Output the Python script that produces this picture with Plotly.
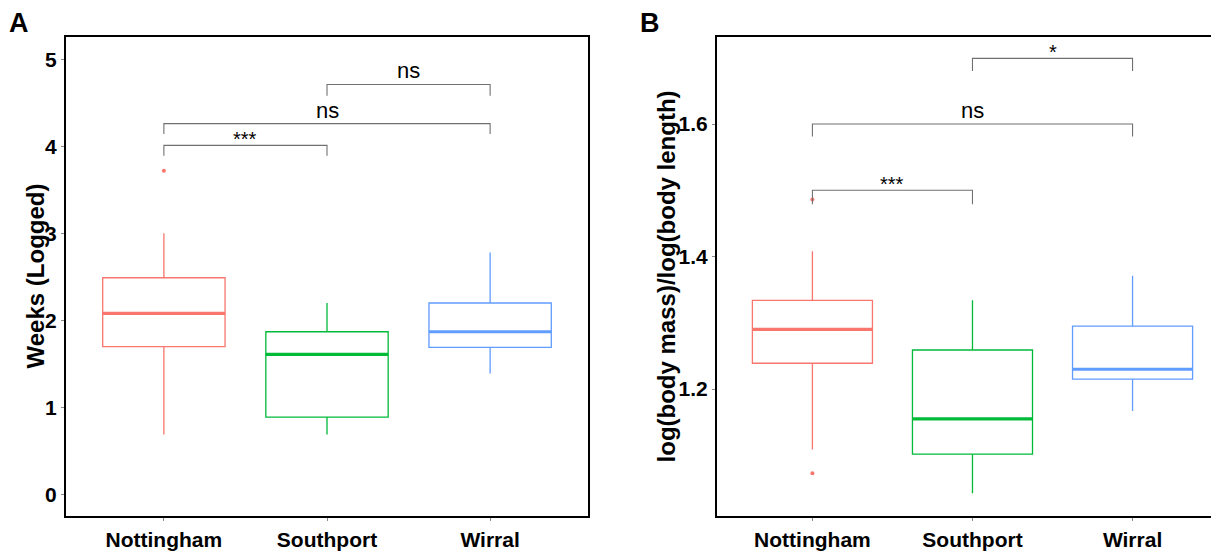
import plotly.graph_objects as go

W, H = 1211, 551

sites = ["Nottingham", "Southport", "Wirral"]
colors = ["#F8766D", "#00BA38", "#619CFF"]

# Panel A: weeks (logged)
weeks_lower = [0.69, 0.69, 1.39]
weeks_q1 = [1.70, 0.89, 1.69]
weeks_median = [2.08, 1.61, 1.87]
weeks_q3 = [2.49, 1.87, 2.20]
weeks_upper = [3.00, 2.20, 2.78]
weeks_outliers = [[3.72], [], []]

# Panel B: log(body mass)/log(body length)
ratio_lower = [1.109, 1.043, 1.167]
ratio_q1 = [1.239, 1.102, 1.215]
ratio_median = [1.290, 1.155, 1.230]
ratio_q3 = [1.334, 1.259, 1.295]
ratio_upper = [1.408, 1.334, 1.371]
ratio_outliers = [[1.073, 1.486], [], []]

# Pairwise comparisons: (group a, group b, bracket height, tip drop, label)
weeks_tests = [
    (0, 1, 4.01, 0.12, "***"),
    (0, 2, 4.26, 0.12, "ns"),
    (1, 2, 4.71, 0.13, "ns"),
]
ratio_tests = [
    (0, 1, 1.500, 0.021, "***"),
    (0, 2, 1.600, 0.019, "ns"),
    (1, 2, 1.699, 0.019, "*"),
]

BOX_W = 0.75
FONT = "Liberation Sans, Arial, sans-serif"

fig = go.Figure()


def add_panel(xa, ya, lower, q1, med, q3, upper, outliers, tests):
    for i, name in enumerate(sites):
        fig.add_trace(go.Box(
            x=[i], q1=[q1[i]], median=[med[i]], q3=[q3[i]],
            lowerfence=[lower[i]], upperfence=[upper[i]],
            width=BOX_W, whiskerwidth=0,
            line=dict(color=colors[i], width=1.3),
            fillcolor="rgba(255,255,255,0)",
            boxpoints=False, hoverinfo="skip",
            xaxis=xa, yaxis=ya, showlegend=False,
        ))
        # thicker median bar
        fig.add_trace(go.Scatter(
            x=[i - BOX_W / 2, i + BOX_W / 2], y=[med[i], med[i]],
            mode="lines", line=dict(color=colors[i], width=3.2),
            xaxis=xa, yaxis=ya, showlegend=False, hoverinfo="skip",
        ))
        if outliers[i]:
            fig.add_trace(go.Scatter(
                x=[i] * len(outliers[i]), y=outliers[i], mode="markers",
                marker=dict(color=colors[i], size=4),
                xaxis=xa, yaxis=ya, showlegend=False, hoverinfo="skip",
            ))
    for a, b, h, tip, lab in tests:
        fig.add_trace(go.Scatter(
            x=[a, a, b, b], y=[h - tip, h, h, h - tip], mode="lines",
            line=dict(color="#707070", width=1.1),
            xaxis=xa, yaxis=ya, showlegend=False, hoverinfo="skip",
        ))
        is_ns = lab == "ns"
        fig.add_annotation(
            x=(a + b) / 2, y=h, xref=xa, yref=ya, text=lab,
            showarrow=False, yanchor="bottom", yshift=-1 if is_ns else -7,
            font=dict(family=FONT, size=22 if is_ns else 20, color="black"),
        )


add_panel("x", "y", weeks_lower, weeks_q1, weeks_median, weeks_q3,
          weeks_upper, weeks_outliers, weeks_tests)
add_panel("x2", "y2", ratio_lower, ratio_q1, ratio_median, ratio_q3,
          ratio_upper, ratio_outliers, ratio_tests)

tickfont = dict(family=FONT, size=21, color="black", weight="bold")
xcommon = dict(
    tickvals=[0, 1, 2], ticktext=sites, tickfont=tickfont,
    ticks="outside", ticklen=3, tickcolor="#888888",
    showgrid=False, zeroline=False, showline=True, linecolor="black",
    linewidth=2, mirror=True, fixedrange=True,
)
ycommon = dict(
    tickfont=tickfont, ticks="outside", ticklen=3, tickcolor="#888888",
    showgrid=False, zeroline=False, showline=True, linecolor="black",
    linewidth=2, fixedrange=True,
)

fig.update_layout(
    width=W, height=H,
    margin=dict(l=0, r=0, t=0, b=0),
    paper_bgcolor="white", plot_bgcolor="white",
    xaxis=dict(domain=[66 / W, 588 / W], range=[-0.6, 2.6], anchor="y", **xcommon),
    yaxis=dict(domain=[1 - 523 / H, 1 - 37 / H], range=[-0.25, 5.26],
               tickvals=[0, 1, 2, 3, 4, 5], anchor="x", mirror=True, **ycommon),
    xaxis2=dict(domain=[717 / W, 1.0], range=[-0.596, 2.49], anchor="y2", **xcommon),
    yaxis2=dict(domain=[1 - 523 / H, 1 - 37 / H], range=[1.008, 1.732],
                tickvals=[1.2, 1.4, 1.6], tickformat=".1f", anchor="x2",
                mirror=False, **ycommon),
)

# panel tags and axis titles
for txt, px in (("A", 19), ("B", 650)):
    fig.add_annotation(
        x=px / W, y=1 - 23 / H, xref="paper", yref="paper", text=txt,
        showarrow=False, xanchor="center", yanchor="middle",
        font=dict(family=FONT, size=27, color="black", weight="bold"),
    )
for txt, px in (("Weeks (Logged)", 35), ("log(body mass)/log(body length)", 666)):
    fig.add_annotation(
        x=px / W, y=1 - 280 / H, xref="paper", yref="paper", text=txt,
        textangle=-90, showarrow=False, xanchor="center", yanchor="middle",
        font=dict(family=FONT, size=24, color="black", weight="bold"),
    )

fig.write_html("out.html", config={"displayModeBar": False})
